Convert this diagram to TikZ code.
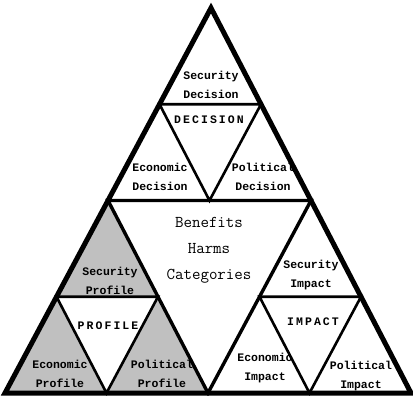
\documentclass[tikz,border=0pt]{standalone}
\usepackage{xcolor}
\usepackage{tikz}
\usepackage{fontspec}
\usetikzlibrary{calc}
\newfontfamily\labelfont{Liberation Mono}
\newfontfamily\capsfont[LetterSpace=18]{Liberation Mono}
\definecolor{ProfileGray}{HTML}{C0C0C0}

\begin{document}
\begin{tikzpicture}[x=1pt,y=-1pt,
    outer/.style={line width=5pt,line join=miter},
    middle/.style={line width=3.4pt,line join=miter},
    inner/.style={line width=2.6pt,line join=miter},
    lbl/.style={font=\labelfont\bfseries\fontsize{11.5}{19}\selectfont,align=center,inner sep=0pt},
    capslbl/.style={font=\capsfont\bfseries\fontsize{11.5}{13}\selectfont,inner sep=0pt}]
  \useasboundingbox (0,0) rectangle (413,396);
  % corners of the big triangle
  \coordinate (top) at (211,8);
  \coordinate (left) at (5,393);
  \coordinate (right) at (411,393);
  \coordinate (ml) at ($(top)!0.5!(left)$);
  \coordinate (mr) at ($(top)!0.5!(right)$);
  \coordinate (mb) at ($(left)!0.5!(right)$);
  % inner triangles
  \coordinate (d1) at ($(top)!0.5!(ml)$);
  \coordinate (d2) at ($(top)!0.5!(mr)$);
  \coordinate (d3) at ($(ml)!0.5!(mr)$);
  \coordinate (p1) at ($(ml)!0.5!(left)$);
  \coordinate (p2) at ($(ml)!0.5!(mb)$);
  \coordinate (p3) at ($(left)!0.5!(mb)$);
  \coordinate (i1) at ($(mr)!0.5!(mb)$);
  \coordinate (i2) at ($(mr)!0.5!(right)$);
  \coordinate (i3) at ($(mb)!0.5!(right)$);

  \fill[ProfileGray] (ml) -- (left) -- (mb) -- cycle;
  \fill[white] (p1) -- (p2) -- (p3) -- cycle;

  \draw[inner] (d1) -- (d2) -- (d3) -- cycle;
  \draw[inner] (p1) -- (p2) -- (p3) -- cycle;
  \draw[inner] (i1) -- (i2) -- (i3) -- cycle;
  \draw[middle] (ml) -- (mr) -- (mb) -- cycle;
  \draw[outer] (top) -- (left) -- (right) -- cycle;

  % decision
  \node[lbl] (secdec) at (211,85) {Security\\Decision};
  \node[capslbl] (decision) at (209,120) {DECISION};
  \node[lbl] (ecodec) at (160,177) {Economic\\Decision};
  \node[lbl] (poldec) at (263,177) {Political\\Decision};
  % centre
  \node[font=\ttfamily\fontsize{16.5}{26}\selectfont,align=center,inner sep=0pt]
    (bhc) at (209,250) {Benefits\\Harms\\Categories};
  % profile
  \node[lbl] (secprof) at (110,281) {Security\\Profile};
  \node[capslbl] (profile) at (108,326) {PROFILE};
  \node[lbl] (ecoprof) at (60,374) {Economic\\Profile};
  \node[lbl] (polprof) at (162,374) {Political\\Profile};
  % impact
  \node[lbl] (secimp) at (311,275) {Security\\Impact};
  \node[capslbl] (impact) at (313,322) {IMPACT};
  \node[lbl] (ecoimp) at (265,368) {Economic\\Impact};
  \node[lbl] (polimp) at (361,376) {Political\\Impact};
\end{tikzpicture}
\end{document}
